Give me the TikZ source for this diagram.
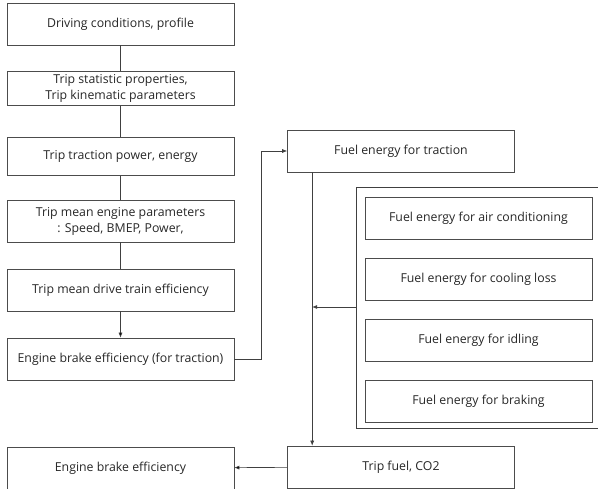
\documentclass[tikz,border=0pt]{standalone}
\usepackage{fontspec}
\setmainfont{Open Sans}
\usetikzlibrary{positioning,arrows.meta}

\begin{document}
\begin{tikzpicture}[x=1pt,y=-1pt,node distance=67pt,on grid,
    >={Latex[length=5pt,width=4pt]},
    blk/.style={draw=black!70,line width=0.6pt,minimum width=227pt,minimum height=42pt,
      align=center,inner sep=2pt,text=black!85,font=\fontsize{12.3}{16}\selectfont},
    link/.style={draw=black!75,line width=0.6pt}]
  \useasboundingbox (0,0) rectangle (598,489);

  % left column
  \node[blk] (drive) at (120.5,24) {Driving conditions,\ profile};
  \node[blk,minimum height=34pt] (stat) [below=64.5pt of drive] {Trip statistic properties,\\Trip kinematic parameters};
  \node[blk,minimum height=38pt] (power) [below=68pt of stat] {Trip traction power, energy};
  \node[blk] (mean) [below=64.5pt of power] {Trip mean engine parameters\\: Speed,\ BMEP, Power,};
  \node[blk] (train) [below=69pt of mean] {Trip mean drive train efficiency};
  \node[blk] (eng) [below=69pt of train] {Engine brake efficiency (for traction)};
  \node[blk] (engall) at (120.5,468) {Engine brake efficiency};

  % right column
  \node[blk] (ftrac) at (401,151) {Fuel energy for traction};
  \node[blk] (ftrip) at (401,467) {Trip fuel, CO2};

  % additional fuel energy
  \draw[link] (600,187) -| (356,428) -- (600,428);
  \node[blk] (fair) at (478.5,218) {Fuel energy for air conditioning};
  \node[blk] (fcool) [below=61pt of fair] {Fuel energy for cooling loss};
  \node[blk] (fidle) [below=61pt of fcool] {Fuel energy for idling};
  \node[blk] (fbrake) [below=61pt of fidle] {Fuel energy for braking};

  \coordinate (grp) at (356,307);
  \coordinate (tap) at ([xshift=25pt]ftrac.south west);

  \path[link] (drive) edge (stat)
              (stat) edge (power)
              (power) edge (mean)
              (mean) edge (train);
  \path[link,->] (train) edge (eng)
                 (ftrip) edge (engall);
  \draw[link,->] (eng.east) -- ++(27,0) |- (ftrac.west);
  \draw[link,->] (tap) -- (tap |- ftrip.north);
  \draw[link,->] (grp) -- (grp -| tap);
\end{tikzpicture}
\end{document}
